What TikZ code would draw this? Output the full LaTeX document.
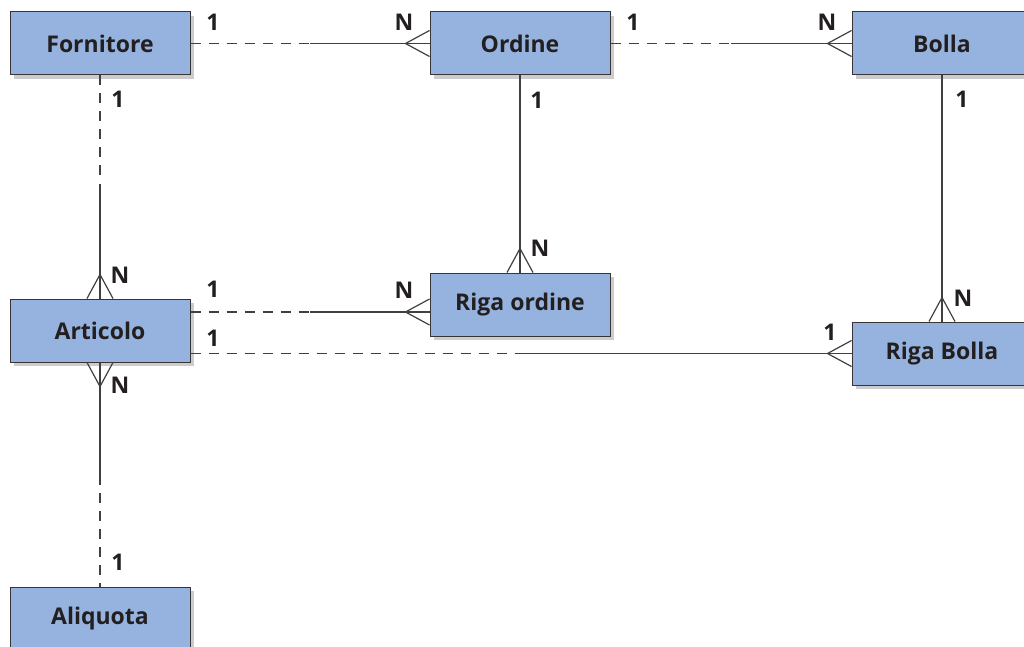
\documentclass[tikz,border=0pt]{standalone}
\usepackage{fontspec}
\setmainfont{Open Sans}
\usetikzlibrary{positioning,calc,shadows}
\definecolor{entityblue}{HTML}{95B3DE}
\definecolor{linegrey}{HTML}{404040}
\definecolor{textdark}{HTML}{231F20}

\begin{document}
\begin{tikzpicture}[x=1pt,y=1pt,
		entity/.style={rectangle, draw=textdark!90, fill=entityblue, line width=1pt, minimum width=180pt, minimum height=63pt, font=\fontsize{23}{27}\selectfont\bfseries, text=textdark, drop shadow={shadow xshift=4pt, shadow yshift=-4pt, fill=black!20, opacity=1}},
		conn/.style={draw=linegrey, line width=1.2pt},
		optional/.style={conn, dash pattern=on 10pt off 8pt},
		card/.style={font=\fontsize{23}{27}\selectfont\bfseries, text=textdark, inner sep=0pt},
		crowfoot/.pic={\draw[conn] (0,0) -- (24,13) (0,0) -- (24,-13);},
		]
		\useasboundingbox (0,0) rectangle (1024,-647);
		
		%Entities
		\node[entity]      (fornitore)  at (100,-43.5)            {Fornitore};
		\node[entity]      (ordine)     [right=239pt of fornitore] {Ordine};
		\node[entity]      (bolla)      [right=241pt of ordine]    {Bolla};
		\node[entity]      (articolo)   [below=223pt of fornitore] {Articolo};
		\node[entity]      (aliquota)   [below=224pt of articolo]  {Aliquota};
		\node[entity]      (rigaordine) [below=197pt of ordine]    {Riga ordine};
		\node[entity]      (rigabolla)  [below=246pt of bolla]     {Riga Bolla};
		
		%Helper points
		\coordinate (m1) at ($(fornitore.east)!.5!(ordine.west)$);
		\coordinate (m2) at ($(ordine.east)!.5!(bolla.west)$);
		\coordinate (m3) at ($(fornitore.south)!.5!(articolo.north)$);
		\coordinate (m4) at ($(articolo.south)!.5!(aliquota.north)$);
		\coordinate (a1) at ([yshift=18.5pt]articolo.east);
		\coordinate (r1) at (rigaordine.west |- a1);
		\coordinate (m5) at ($(a1)!.5!(r1)$);
		\coordinate (a2) at (articolo.east |- rigabolla.west);
		\coordinate (m6) at ($(a2)!.5!(rigabolla.west)$);
		
		%Lines
		\draw[optional] (fornitore.east) -- (m1);
		\draw[conn] (m1) -- (ordine.west);
		\draw[optional] (ordine.east) -- (m2);
		\draw[conn] (m2) -- (bolla.west);
		\draw[optional] (fornitore.south) -- (m3);
		\draw[conn] (m3) -- (articolo.north);
		\draw[conn] (articolo.south) -- (m4);
		\draw[optional] (m4) -- (aliquota.north);
		\draw[conn] (ordine.south) -- (rigaordine.north);
		\draw[conn] (bolla.south) -- (rigabolla.north);
		\draw[optional] (a1) -- (m5);
		\draw[conn] (m5) -- (r1);
		\draw[optional] (a2) -- (m6);
		\draw[conn] (m6) -- (rigabolla.west);
		
		%Crow's feet
		\pic at ([xshift=-24pt]ordine.west) {crowfoot};
		\pic at ([xshift=-24pt]bolla.west) {crowfoot};
		\pic at ([xshift=-24pt]r1) {crowfoot};
		\pic at ([xshift=-24pt]rigabolla.west) {crowfoot};
		\pic[rotate=-90] at ([yshift=24pt]articolo.north) {crowfoot};
		\pic[rotate=90] at ([yshift=-24pt]articolo.south) {crowfoot};
		\pic[rotate=-90] at ([yshift=24pt]rigaordine.north) {crowfoot};
		\pic[rotate=-90] at ([yshift=24pt]rigabolla.north) {crowfoot};
		
		%Cardinalities
		\node[card] (c1)  at (213,-22)  {1};
		\node[card] (c2)  at (404,-22)  {N};
		\node[card] (c3)  at (633,-22)  {1};
		\node[card] (c4)  at (827,-22)  {N};
		\node[card] (c5)  at (118,-99)  {1};
		\node[card] (c6)  at (537,-100) {1};
		\node[card] (c7)  at (962,-99)  {1};
		\node[card] (c8)  at (120,-275) {N};
		\node[card] (c9)  at (213,-289) {1};
		\node[card] (c10) at (404,-290) {N};
		\node[card] (c11) at (213,-338) {1};
		\node[card] (c12) at (120,-385) {N};
		\node[card] (c13) at (540,-248) {N};
		\node[card] (c14) at (963,-298) {N};
		\node[card] (c15) at (830,-332) {1};
		\node[card] (c16) at (118,-562) {1};
		\end{tikzpicture}
\end{document}
